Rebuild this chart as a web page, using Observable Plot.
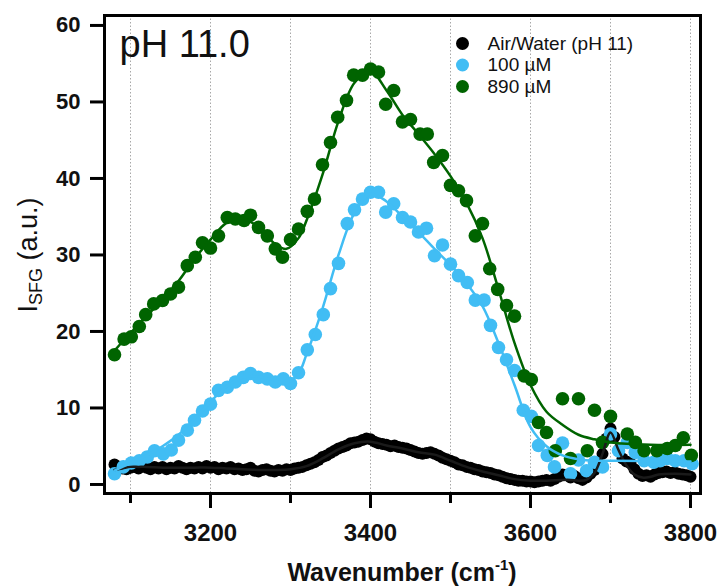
<!DOCTYPE html>
<html>
<head>
<meta charset="utf-8">
<script src="https://cdn.jsdelivr.net/npm/d3@7"></script>
<script src="https://cdn.jsdelivr.net/npm/@observablehq/plot@0.6"></script>
<style>
  html, body { margin: 0; padding: 0; background: #fff; }
  #chart svg { display: block; }
</style>
</head>
<body>
<div id="chart"></div>
<script>
// ---- Data ----
const seriesNames = ["Air/Water (pH 11)", "100 µM", "890 µM"];
const seriesColors = ["#000000", "#41bdf4", "#006400"];

// Air/Water (pH 11): points every 5 cm-1 from 3080 to 3800
const airW = d3.range(3080, 3801, 5);
const airV = [
  2.6, 2.3, 2.1, 2.0, 2.2, 2.3, 2.1, 2.4, 2.2, 2.0,
  2.3, 2.1, 2.3, 2.0, 2.2, 2.1, 2.4, 2.2, 2.0, 2.2,
  2.1, 2.3, 2.1, 2.4, 2.2, 2.3, 2.0, 2.2, 2.1, 2.3,
  2.0, 2.1, 1.9, 2.0, 2.2, 1.8, 1.7, 1.9, 2.0, 1.8,
  1.7, 1.9, 1.8, 2.0, 1.9, 2.1, 2.2, 2.3, 2.5, 2.7,
  2.9, 3.2, 3.6, 3.8, 4.1, 4.4, 4.7, 4.9, 5.1, 5.4,
  5.5, 5.6, 5.8, 6.0, 5.9, 5.6, 5.4, 5.3, 5.2, 5.0,
  5.1, 4.9, 4.8, 4.7, 4.5, 4.3, 4.1, 4.0, 4.1, 4.2,
  4.0, 3.8, 3.5, 3.3, 3.1, 2.9, 2.6, 2.5, 2.3, 2.2,
  2.0, 1.9, 1.7, 1.6, 1.5, 1.3, 1.2, 1.0, 0.8, 0.7,
  0.6, 0.5, 0.5, 0.4, 0.4, 0.3, 0.4, 0.5, 0.6, 0.5,
  0.7, 1.0, 1.3, 1.2, 0.9, 1.1, 0.8, 0.6, 0.9, 1.4,
  1.9, 2.7, 4.0, 6.0, 7.3, 6.2, 4.5, 3.4, 3.0, 2.8,
  2.0, 1.4, 1.1, 1.2, 1.0, 1.3, 1.5, 1.6, 1.7, 1.5,
  1.6, 1.4, 1.3, 1.2, 1.0
];
const airFitW = [3080,3090,3100,3110,3120,3140,3160,3180,3200,3220,3240,3260,3280,3300,3320,3340,3360,3380,3400,3420,3440,3460,3480,3500,3520,3540,3560,3580,3600,3620,3640,3650,3660,3670,3680,3690,3700,3710,3720,3730,3740,3750,3760,3780,3800];
const airFitV = [1.9,2.1,2.3,2.3,2.3,2.2,2.2,2.2,2.2,2.1,2.0,1.9,1.9,2.0,2.4,3.4,4.6,5.4,5.6,5.1,4.7,4.2,3.9,3.1,2.3,1.7,1.2,0.7,0.5,0.5,0.6,0.6,0.5,0.6,1.5,4.0,6.8,4.5,2.5,1.3,0.9,1.0,1.3,1.4,1.3];

// 100 µM
const lowW = [3080,3091,3101,3111,3121,3130,3141,3151,3160,3171,3180,3190,3200,3210,3221,3231,3241,3250,3260,3271,3281,3291,3300,3310,3321,3331,3341,3350,3360,3371,3380,3390,3400,3410,3419,3429,3440,3450,3460,3470,3480,3490,3500,3510,3521,3531,3542,3550,3560,3570,3580,3591,3601,3610,3621,3630,3640,3650,3660,3670,3680,3690,3700,3710,3721,3731,3742,3754,3762,3771,3781,3792,3802];
const lowV = [1.4,2.3,2.8,3.1,3.6,4.4,4.0,4.5,5.8,7.1,8.4,9.6,10.5,12.3,12.7,13.4,14.0,14.5,14.0,13.8,13.4,13.8,13.2,14.6,17.6,19.6,22.2,25.6,28.9,34.1,35.9,37.3,38.2,38.2,35.6,36.7,34.9,34.3,33.0,33.5,29.9,31.3,28.8,27.3,26.4,24.1,24.1,20.8,17.9,16.3,14.9,9.7,8.9,5.1,3.8,2.3,5.4,1.4,3.2,1.8,2.9,2.3,6.6,4.4,5.5,4.2,3.1,2.9,3.1,3.4,3.1,3.1,2.7];
const lowFitW = [3080,3100,3120,3140,3160,3180,3200,3220,3240,3260,3280,3295,3310,3320,3340,3360,3380,3400,3420,3440,3460,3480,3500,3520,3540,3560,3580,3600,3620,3640,3660,3680,3700,3800];
const lowFitV = [1.8,2.8,3.8,5.0,6.5,8.6,10.8,12.8,14.0,14.1,13.6,13.3,14.5,17.0,23.0,30.0,35.5,38.0,37.0,35.0,33.0,30.8,28.7,26.3,23.3,18.5,13.0,7.5,5.0,3.8,3.3,3.1,3.1,3.0];

// 890 µM
const highW = [3080,3092,3101,3111,3119,3129,3140,3150,3160,3171,3181,3190,3200,3210,3221,3231,3242,3250,3260,3271,3281,3290,3300,3310,3321,3330,3340,3350,3359,3370,3379,3390,3400,3410,3419,3429,3440,3450,3462,3471,3479,3490,3500,3510,3520,3531,3540,3549,3559,3570,3580,3592,3601,3610,3620,3631,3640,3650,3660,3671,3680,3690,3700,3721,3731,3742,3758,3771,3781,3791,3801];
const highV = [16.95,19.0,19.3,20.65,22.2,23.6,24.05,24.9,25.8,28.6,29.7,31.6,30.9,32.5,34.9,34.7,34.5,35.2,33.6,32.5,30.8,29.7,32.0,33.4,35.7,37.3,41.8,44.7,48.0,50.2,53.5,53.5,54.3,53.9,49.7,51.5,47.4,47.7,45.8,45.8,42.1,43.0,39.1,38.4,37.1,32.5,34.1,28.2,25.5,23.4,22.0,14.2,13.7,8.1,6.8,4.4,11.2,3.4,11.2,4.4,9.7,5.5,8.9,6.6,5.5,4.4,4.4,4.7,5.1,6.1,3.8];
const highFitW = [3080,3100,3120,3140,3160,3180,3200,3220,3240,3260,3280,3295,3310,3320,3340,3360,3380,3400,3420,3440,3460,3480,3500,3520,3540,3560,3580,3600,3620,3640,3660,3680,3700,3750,3800];
const highFitV = [17.5,19.8,22.0,24.2,26.6,29.5,32.0,34.2,34.8,33.6,31.5,30.8,32.2,34.5,40.5,47.5,52.5,54.0,51.5,48.3,45.8,43.2,40.3,36.8,32.2,25.5,18.5,13.0,9.5,7.8,6.5,5.9,5.5,5.2,5.2];

const yTicks = [0, 10, 20, 30, 40, 50, 60];
const xMajorTicks = [3200, 3400, 3600, 3800];
const xMinorTicks = [3100, 3300, 3500, 3700];
const gridTicks = [3100, 3200, 3300, 3400, 3500, 3600, 3700, 3800];
const panelLabel = "pH 11.0";

// ---- Build tables ----
const toRows = (ws, vs) => ws.map((w, i) => ({w, v: vs[i]}));
const air = toRows(airW, airV), airFit = toRows(airFitW, airFitV);
const low = toRows(lowW, lowV), lowFit = toRows(lowFitW, lowFitV);
const high = toRows(highW, highV), highFit = toRows(highFitW, highFitV);

const legendMarks = seriesNames.flatMap((name, i) => [
  Plot.dot([name], {frameAnchor: "top-left", dx: 358, dy: 28 + i * 21.5, r: 6.5, fill: seriesColors[i]}),
  Plot.text([name], {frameAnchor: "top-left", dx: 383, dy: 28 + i * 21.5, text: d => d, fontSize: 19, textAnchor: "start", lineAnchor: "middle", fill: "#111"})
]);

const chart = Plot.plot({
  width: 722,
  height: 586,
  marginLeft: 104,
  marginRight: 22,
  marginTop: 15,
  marginBottom: 93,
  style: {fontFamily: "'Liberation Sans', Arial, sans-serif", background: "#fff", overflow: "visible"},
  x: {domain: [3067.5, 3812.5]},
  y: {domain: [-1.18, 61.3]},
  marks: [
    Plot.gridX(gridTicks, {stroke: "#a8a8a8", strokeOpacity: 1, strokeWidth: 1, strokeDasharray: "1.5,2"}),
    Plot.dot(air, {x: "w", y: "v", r: 6, fill: seriesColors[0]}),
    Plot.dot(low, {x: "w", y: "v", r: 6.8, fill: seriesColors[1]}),
    Plot.dot(high, {x: "w", y: "v", r: 6.8, fill: seriesColors[2]}),
    Plot.line(airFit, {x: "w", y: "v", stroke: "#1a1a1a", strokeWidth: 2.5, curve: "catmull-rom"}),
    Plot.line(lowFit, {x: "w", y: "v", stroke: seriesColors[1], strokeWidth: 2.5, curve: "catmull-rom"}),
    Plot.line(highFit, {x: "w", y: "v", stroke: seriesColors[2], strokeWidth: 2.5, curve: "catmull-rom"}),
    Plot.frame({stroke: "#000", strokeWidth: 3}),
    Plot.axisY(yTicks, {tickSize: 14, tickPadding: 10, strokeWidth: 3, fontSize: 22, fontWeight: "bold", label: null, fill: "#111", tickFormat: d => String(d)}),
    Plot.axisX(xMajorTicks, {tickSize: 15, tickPadding: 15, strokeWidth: 3, fontSize: 24, fontWeight: "bold", label: null, fill: "#111", tickFormat: d => String(d)}),
    Plot.axisX(xMinorTicks, {tickSize: 10, strokeWidth: 3, text: null, label: null}),
    Plot.text([panelLabel], {frameAnchor: "top-left", dx: 15, dy: 15, text: d => d, fontSize: 38, textAnchor: "start", lineAnchor: "top", fill: "#111"}),
    ...legendMarks
  ]
});

document.getElementById("chart").appendChild(chart);

// ---- Axis titles with sub/superscripts ----
const svg = d3.select(chart);
const xt = svg.append("text")
  .attr("x", 402).attr("y", 581)
  .attr("text-anchor", "middle")
  .attr("font-size", 25).attr("font-weight", "bold")
  .attr("font-family", "'Liberation Sans', Arial, sans-serif")
  .attr("fill", "#111");
xt.append("tspan").text("Wavenumber (cm");
xt.append("tspan").attr("font-size", 15).attr("dy", -11).text("-1");
xt.append("tspan").attr("dy", 11).text(")");

const yt = svg.append("text")
  .attr("transform", "translate(37,255) rotate(-90)")
  .attr("text-anchor", "middle")
  .attr("font-size", 27)
  .attr("font-family", "'Liberation Sans', Arial, sans-serif")
  .attr("fill", "#111");
yt.append("tspan").text("I");
yt.append("tspan").attr("font-size", 18).attr("dy", 5).text("SFG");
yt.append("tspan").attr("dy", -5).text(" (a.u.)");
</script>
</body>
</html>
